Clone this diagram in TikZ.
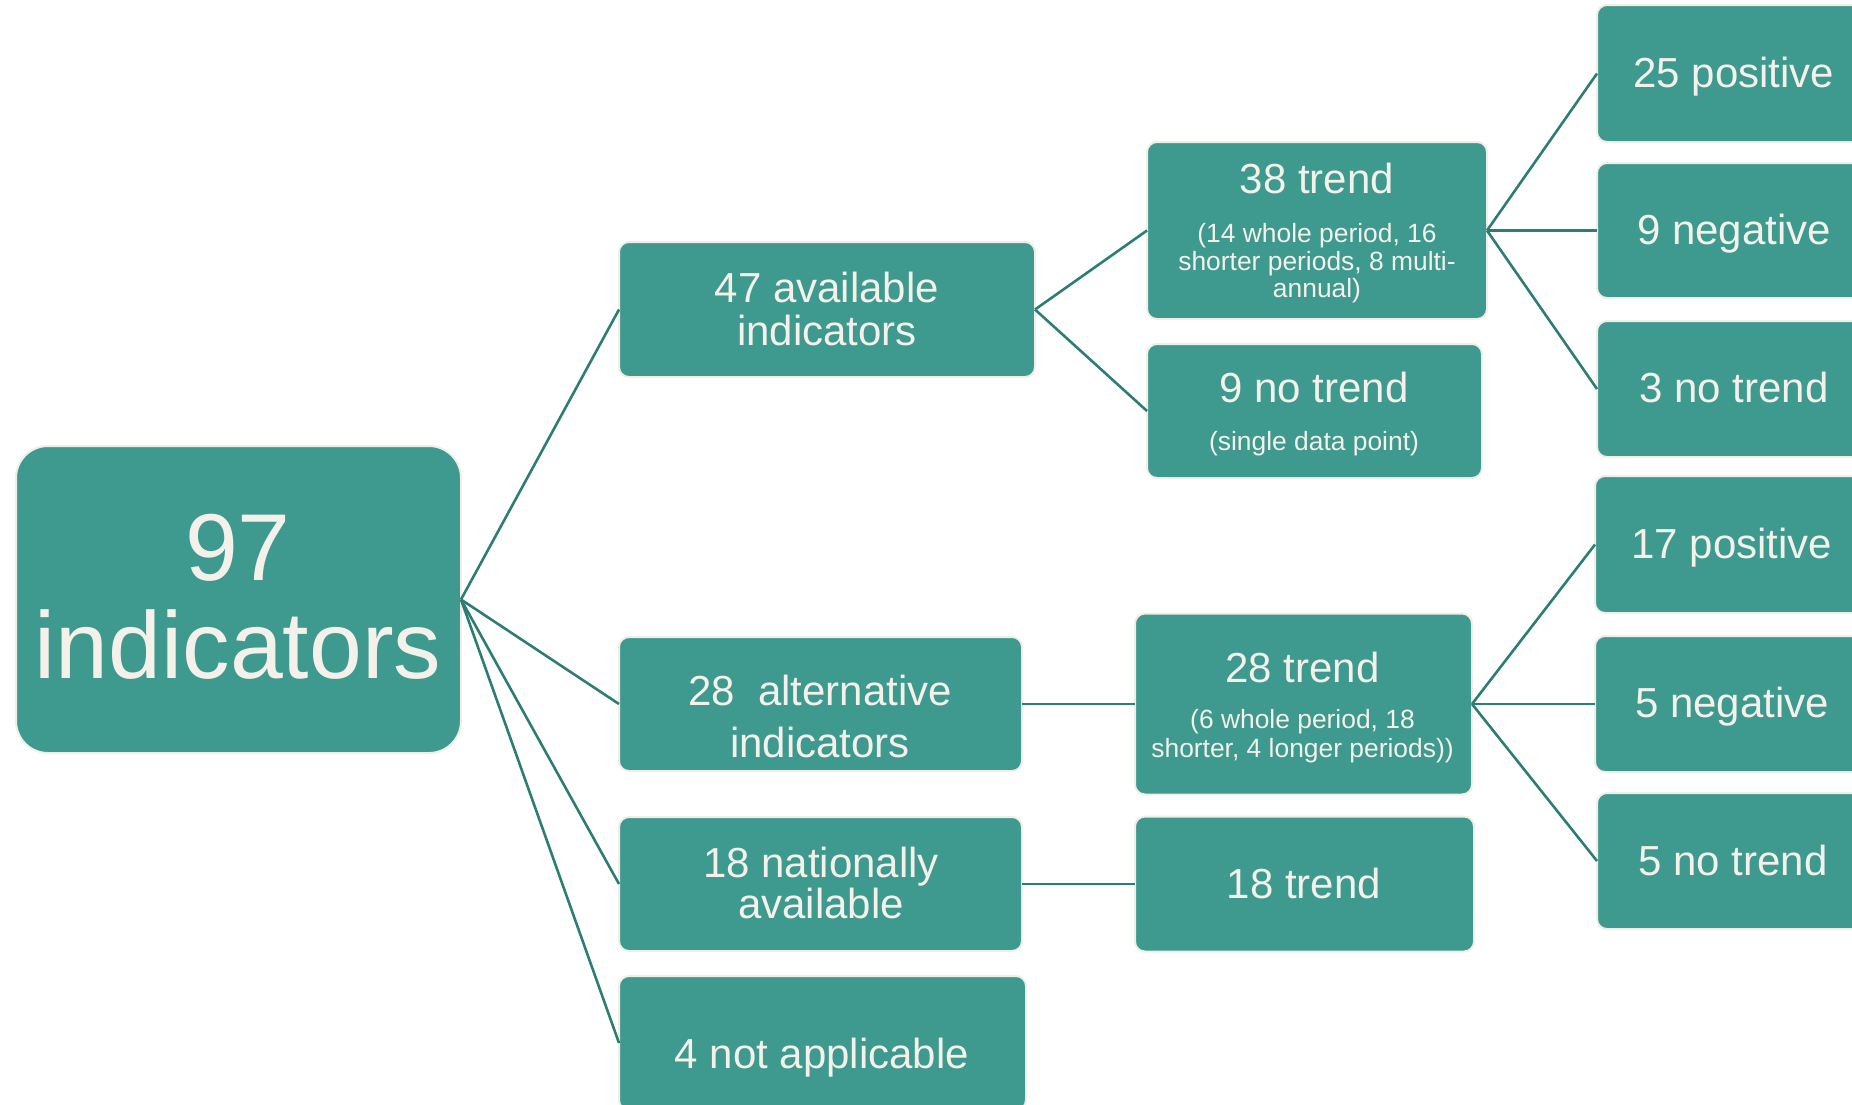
\documentclass[tikz,border=0pt]{standalone}
\usepackage{fontspec}
\setmainfont{Liberation Sans}
\definecolor{boxfill}{HTML}{3E9A8E}
\definecolor{boxedge}{HTML}{F0EEE6}
\definecolor{txtcol}{HTML}{F3F1EA}
\definecolor{linkcol}{HTML}{2E7D73}
\tikzset{
  box/.style={draw=boxedge, line width=1pt, fill=boxfill, rounded corners=5pt, inner sep=0pt, outer sep=0pt},
  bigbox/.style={box, rounded corners=16pt},
  link/.style={draw=linkcol, line width=1.3pt},
  txt/.style={anchor=base, text=txtcol, inner sep=0pt},
  mid/.style={txt, font=\fontsize{21}{21.5}\selectfont},
  small/.style={txt, font=\fontsize{13.2}{13.75}\selectfont},
  huge/.style={txt, font=\fontsize{47.5}{49}\selectfont}
}
\begin{document}
\begin{tikzpicture}[x=0.5pt, y=-0.5pt]
\useasboundingbox (0,0) rectangle (1852,1104);
\clip (0,0) rectangle (1852,1104);
% boxes
\node[bigbox, minimum width=222.5pt, minimum height=153.5pt] (root) at (238.5,599.5) {};
\node[box, minimum width=208pt, minimum height=67.5pt] (a47) at (827,309.5) {};
\node[box, minimum width=201.5pt, minimum height=67pt] (a28) at (820.5,704) {};
\node[box, minimum width=201.5pt, minimum height=67pt] (a18) at (820.5,884) {};
\node[box, minimum width=203.5pt, minimum height=67pt] (a4) at (822.5,1043) {};
\node[box, minimum width=170pt, minimum height=88.5pt] (t38) at (1317,230.5) {};
\node[box, minimum width=167.5pt, minimum height=67pt] (t9) at (1314.5,411) {};
\node[box, minimum width=168.5pt, minimum height=90.5pt] (t28) at (1303.5,704) {};
\node[box, minimum width=169.5pt, minimum height=67.5pt] (t18) at (1304.5,884) {};
\node[box, minimum width=136.5pt, minimum height=68.5pt] (r25) at (1733.5,73.5) {};
\node[box, minimum width=136.5pt, minimum height=67.5pt] (r9) at (1733.5,230.5) {};
\node[box, minimum width=136.5pt, minimum height=68pt] (r3) at (1733.5,389) {};
\node[box, minimum width=137.5pt, minimum height=68.5pt] (r17) at (1732.5,544.5) {};
\node[box, minimum width=137.5pt, minimum height=68pt] (r5n) at (1732.5,704) {};
\node[box, minimum width=136.5pt, minimum height=68pt] (r5t) at (1733.5,861) {};
% connectors
\draw[link] (root.east) -- (a47.west);
\draw[link] (root.east) -- (a28.west);
\draw[link] (root.east) -- (a18.west);
\draw[link] (root.east) -- (a4.west);
\draw[link] (a47.east) -- (t38.west);
\draw[link] (a47.east) -- (t9.west);
\draw[link] (a28.east) -- (t28.west);
\draw[link] (a18.east) -- (t18.west);
\draw[link] (t38.east) -- (r25.west);
\draw[link] (t38.east) -- (r9.west);
\draw[link] (t38.east) -- (r3.west);
\draw[link] (t28.east) -- (r17.west);
\draw[link] (t28.east) -- (r5n.west);
\draw[link] (t28.east) -- (r5t.west);
% texts
\node[huge] (root-l1) at (238,580) {97};
\node[huge] (root-l2) at (238,678) {indicators};
\node[mid] (a47-l1) at (827,302) {47 available};
\node[mid] (a47-l2) at (827,345) {indicators};
\node[mid] (a28-l1) at (820,705) {28\ \ alternative};
\node[mid] (a28-l2) at (820,757) {indicators};
\node[mid] (a18-l1) at (821,877) {18 nationally};
\node[mid] (a18-l2) at (821,918) {available};
\node[mid] (a4-l1) at (822,1068) {4 not applicable};
\node[mid] (t38-l1) at (1317,193) {38 trend};
\node[small] (t38-l2) at (1317,242) {(14 whole period, 16};
\node[small] (t38-l3) at (1317,270) {shorter periods, 8 multi-};
\node[small] (t38-l4) at (1317,297) {annual)};
\node[mid] (t9-l1) at (1314,402) {9 no trend};
\node[small] (t9-l2) at (1314,450) {(single data point)};
\node[mid] (t28-l1) at (1302.5,682) {28 trend};
\node[small] (t28-l2) at (1302.5,728) {(6 whole period, 18};
\node[small] (t28-l3) at (1302.5,757) {shorter, 4 longer periods))};
\node[mid] (t18-l1) at (1304,898) {18 trend};
\node[mid] (r25-l) at (1734,87) {25 positive};
\node[mid] (r9-l) at (1734,244) {9 negative};
\node[mid] (r3-l) at (1734,402) {3 no trend};
\node[mid] (r17-l) at (1732,558) {17 positive};
\node[mid] (r5n-l) at (1732,717) {5 negative};
\node[mid] (r5t-l) at (1733,875) {5 no trend};
\end{tikzpicture}
\end{document}
